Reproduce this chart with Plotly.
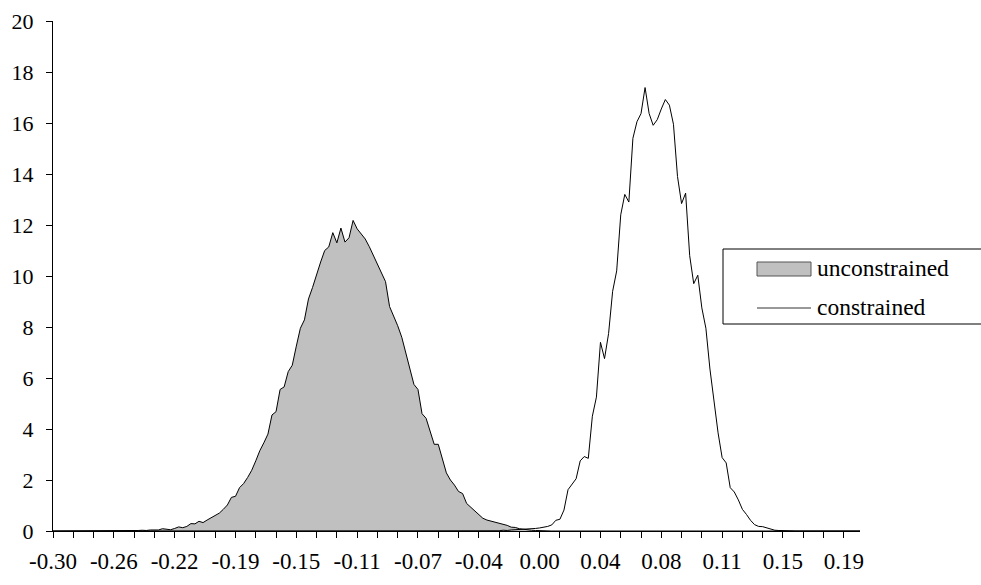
import plotly.graph_objects as go

# ---- data -------------------------------------------------------------
bin_start = -0.30
bin_width = 0.0025
n_bins = 200

unconstrained = [0.0] * 15 + [
    0.01, 0.00, 0.01, 0.02, 0.01, 0.02, 0.02, 0.03, 0.02, 0.04, 0.05, 0.04, 0.09, 0.06, 0.05, 0.10,
    0.16, 0.13, 0.18, 0.29, 0.28, 0.38, 0.33, 0.43, 0.52, 0.62,
    0.70, 0.85, 1.02, 1.32, 1.36, 1.70, 1.86, 2.10, 2.38, 2.75,
    3.15, 3.46, 3.80, 4.55, 4.68, 5.55, 5.65, 6.25, 6.50, 7.25,
    7.95, 8.28, 9.10, 9.55, 10.10, 10.55, 11.00, 11.14, 11.70, 11.30,
    11.88, 11.33, 11.50, 12.18, 11.85, 11.65, 11.45, 11.15, 10.80, 10.45,
    10.10, 9.78, 8.80, 8.45, 8.05, 7.60, 7.00, 6.30, 5.75, 5.55,
    4.60, 4.42, 3.90, 3.40, 3.40, 2.85, 2.28, 2.00, 1.80, 1.55,
    1.47, 1.08, 0.93, 0.80, 0.62, 0.50, 0.43, 0.39, 0.33, 0.30,
    0.26, 0.22, 0.15, 0.14, 0.09, 0.06, 0.05, 0.03, 0.02, 0.01,
] + [0.0] * 79

constrained = [0.0] * 108 + [
    0.01, 0.02, 0.01, 0.03, 0.02, 0.04, 0.05, 0.04, 0.06, 0.07, 0.09, 0.10, 0.12,
    0.14, 0.18, 0.24, 0.42, 0.46, 0.82, 1.62, 1.86, 2.05, 2.75,
    2.92, 2.85, 4.50, 5.25, 7.40, 6.76, 7.74, 9.40, 10.20, 12.40,
    13.20, 12.90, 15.40, 16.05, 16.37, 17.39, 16.37, 15.91, 16.13, 16.55,
    16.92, 16.70, 15.95, 13.90, 12.84, 13.25, 10.80, 9.70, 10.03, 8.75,
    7.95, 6.35, 5.00, 3.85, 2.88, 2.67, 1.70, 1.53, 1.22, 0.85,
    0.65, 0.42, 0.25, 0.18, 0.17, 0.13, 0.06, 0.03, 0.02, 0.01,
] + [0.0] * 19

series_names = ["unconstrained", "constrained"]

tick_labels = ["-0.30", "-0.26", "-0.22", "-0.19", "-0.15", "-0.11", "-0.07",
               "-0.04", "0.00", "0.04", "0.08", "0.11", "0.15", "0.19"]
label_every = 15   # bins between labelled categories
mark_every = 5     # bins between tick marks

# ---- derived ----------------------------------------------------------
categories = [round(bin_start + bin_width * i, 5) for i in range(n_bins)]
label_vals = [categories[i * label_every] for i in range(len(tick_labels))]
mark_vals = [categories[i] for i in range(0, n_bins, mark_every)]

FONT = "'Liberation Serif', 'Times New Roman', Times, serif"

# plot-area geometry (px) used to place the legend box in paper coords
L, T, W, H = 53, 21, 807, 510
def px_x(px):
    return (px - L) / W
def px_y(py):
    return (T + H - py) / H

fig = go.Figure()
fig.add_trace(go.Scatter(
    x=categories, y=unconstrained, name=series_names[0], mode="lines",
    fill="tozeroy", fillcolor="#C0C0C0",
    line=dict(color="black", width=1), showlegend=False,
))
fig.add_trace(go.Scatter(
    x=categories, y=constrained, name=series_names[1], mode="lines",
    line=dict(color="black", width=1), showlegend=False,
))

# legend drawn as box + swatches + text
shapes = [
    dict(type="rect", xref="paper", yref="paper",
         x0=px_x(723), x1=px_x(1000), y0=px_y(324), y1=px_y(249),
         line=dict(color="black", width=1), fillcolor="white", layer="above"),
    dict(type="rect", xref="paper", yref="paper",
         x0=px_x(757), x1=px_x(811), y0=px_y(276), y1=px_y(262),
         line=dict(color="#555555", width=1), fillcolor="#C0C0C0", layer="above"),
    dict(type="line", xref="paper", yref="paper",
         x0=px_x(757), x1=px_x(811), y0=px_y(308), y1=px_y(308),
         line=dict(color="#333333", width=1), layer="above"),
]
annotations = [
    dict(text=series_names[0], xref="paper", yref="paper",
         x=px_x(815), y=px_y(268), xanchor="left", yanchor="middle",
         showarrow=False, font=dict(family=FONT, size=23.5, color="black")),
    dict(text=series_names[1], xref="paper", yref="paper",
         x=px_x(815), y=px_y(307), xanchor="left", yanchor="middle",
         showarrow=False, font=dict(family=FONT, size=23.5, color="black")),
]

fig.update_layout(
    width=981, height=585,
    margin=dict(l=L, r=981 - L - W, t=T, b=585 - T - H, pad=0, autoexpand=False),
    paper_bgcolor="white", plot_bgcolor="white",
    font=dict(family=FONT, size=22, color="black"),
    showlegend=False,
    shapes=shapes, annotations=annotations,
)

fig.update_xaxes(
    range=[categories[0], categories[-1]],
    showgrid=False, zeroline=False,
    showline=True, linecolor="black", linewidth=1,
    tickmode="array", tickvals=label_vals, ticktext=tick_labels,
    tickfont=dict(family=FONT, size=23, color="black"),
    ticks="outside", ticklen=6, tickcolor="black", tickwidth=1,
    ticklabelstandoff=3,
    minor=dict(tickmode="array", tickvals=mark_vals, ticks="outside",
               ticklen=6, tickcolor="black", tickwidth=1, showgrid=False),
)
fig.update_yaxes(
    range=[0, 20], dtick=2, tick0=0,
    showgrid=False, zeroline=False,
    showline=True, linecolor="black", linewidth=1,
    tickfont=dict(family=FONT, size=22, color="black"),
    ticks="outside", ticklen=6, tickcolor="black", tickwidth=1,
    ticklabelstandoff=8,
)

fig.write_html("out.html", config={"displayModeBar": False},
               post_script="document.body.style.margin='0';")
